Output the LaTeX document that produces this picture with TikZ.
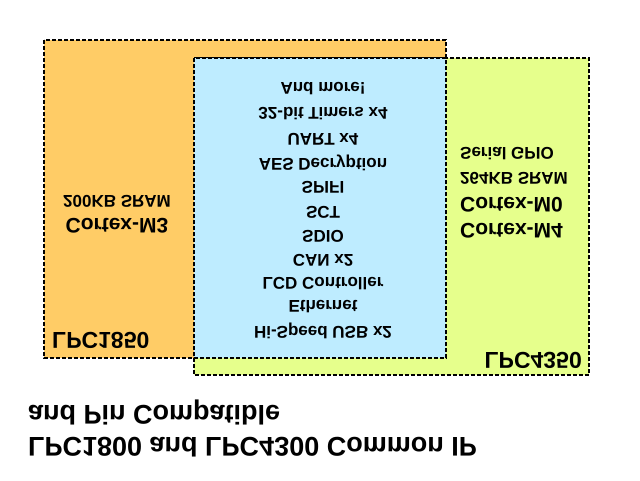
\documentclass[tikz,border=0pt]{standalone}
\usepackage{fontspec}
\setmainfont{Liberation Sans}

\definecolor{lpcorange}{RGB}{255,204,102}
\definecolor{lpcgreen}{RGB}{230,255,140}
\definecolor{lpcblue}{RGB}{190,236,255}

\begin{document}
\begin{tikzpicture}[x=1pt, y=-1pt,
    box/.style={draw=black, line width=1.6pt, dash pattern=on 4pt off 2pt},
    flipped/.style={yscale=-1, inner sep=0pt},
    titletext/.style={flipped, font=\bfseries\fontsize{27}{31}\selectfont},
    chiplabel/.style={flipped, font=\bfseries\fontsize{23}{27}\selectfont},
    corelabel/.style={flipped, font=\bfseries\fontsize{21}{25}\selectfont},
    memlabel/.style={flipped, font=\bfseries\fontsize{17}{20}\selectfont},
    listitem/.style={flipped, font=\bfseries\fontsize{17}{20}\selectfont}]
    \useasboundingbox (0, 0) rectangle (640, 480);

    % Define the boxes
    \draw[box, fill=lpcorange] (44, 40) rectangle (446, 358);
    \draw[box, fill=lpcgreen] (194, 58) rectangle (589, 375);
    \draw[box, fill=lpcblue] (194, 58) rectangle (446, 358);

    % LPC1850 only
    \node[chiplabel, anchor=base west] (lpc1850) at (52, 332) {LPC1850};
    \node[memlabel, anchor=base] (sram1850) at (117, 195) {200KB SRAM};
    \node[corelabel, anchor=base] (m3) at (117, 218) {Cortex-M3};

    % LPC4350 only
    \node[chiplabel, anchor=base east] (lpc4350) at (582, 352) {LPC4350};
    \node[memlabel, anchor=base west] (sgpio) at (460, 147) {Serial GPIO};
    \node[memlabel, anchor=base west] (sram4350) at (460, 172) {264KB SRAM};
    \node[corelabel, anchor=base west] (m0) at (460, 197) {Cortex-M0};
    \node[corelabel, anchor=base west] (m4) at (460, 223) {Cortex-M4};

    % Common IP
    \node[listitem] (more) at (323, 89) {And more!};
    \node[listitem] (timers) at (323, 114) {32-bit Timers x4};
    \node[listitem] (uart) at (323, 139) {UART x4};
    \node[listitem] (aes) at (323, 163) {AES Decryption};
    \node[listitem] (spifi) at (323, 187) {SPIFI};
    \node[listitem] (sct) at (323, 212) {SCT};
    \node[listitem] (sdio) at (323, 236) {SDIO};
    \node[listitem] (can) at (323, 260) {CAN x2};
    \node[listitem] (lcd) at (323, 284) {LCD Controller};
    \node[listitem] (eth) at (323, 307) {Ethernet};
    \node[listitem] (usb) at (323, 331) {Hi-Speed USB x2};

    % Add the title
    \node[titletext, anchor=base west] (pins) at (28, 405) {and Pin Compatible};
    \node[titletext, anchor=base west] (title) at (28, 437) {LPC1800 and LPC4300 Common IP};
\end{tikzpicture}
\end{document}
